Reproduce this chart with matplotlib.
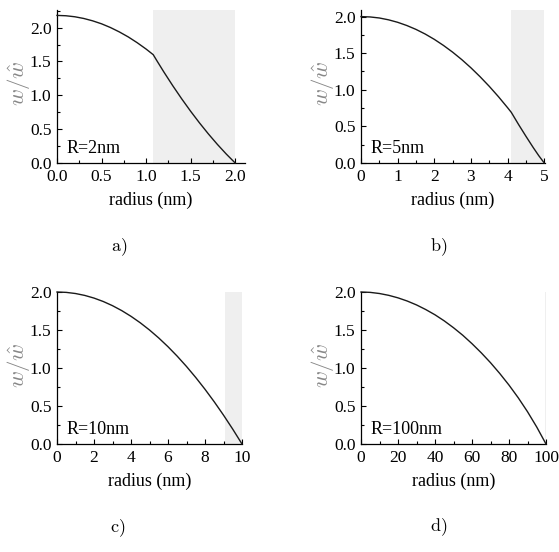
import matplotlib
matplotlib.use("Agg")
import matplotlib.pyplot as plt
from matplotlib.ticker import MultipleLocator

plt.rcParams['font.family'] = ['Liberation Serif', 'DejaVu Serif']
plt.rcParams['mathtext.fontset'] = 'cm'

# ---- data ----
r_a = [0.0, 0.1, 0.2, 0.3, 0.4, 0.5, 0.6, 0.7, 0.8, 0.9, 1.0, 1.08,
       1.12, 1.2, 1.3, 1.4, 1.5, 1.6, 1.7, 1.8, 1.9, 2.0]
w_a = [2.18, 2.175, 2.16, 2.135, 2.10, 2.056, 2.001, 1.936, 1.862, 1.777, 1.683, 1.60,
       1.513, 1.343, 1.140, 0.947, 0.764, 0.591, 0.428, 0.275, 0.132, 0.0]
shade_a = [1.08, 2.0]

r_b = [0.0, 0.25, 0.5, 0.75, 1.0, 1.25, 1.5, 1.75, 2.0, 2.25, 2.5, 2.75, 3.0,
       3.25, 3.5, 3.75, 4.0, 4.1, 4.3, 4.5, 4.7, 4.85, 5.0]
w_b = [2.0, 1.995, 1.981, 1.956, 1.922, 1.878, 1.825, 1.762, 1.689, 1.606, 1.514, 1.412, 1.30,
       1.178, 1.047, 0.906, 0.755, 0.692, 0.525, 0.365, 0.21, 0.10, 0.0]
shade_b = [4.1, 5.0]

r_c = [0.0, 0.5, 1.0, 1.5, 2.0, 2.5, 3.0, 3.5, 4.0, 4.5, 5.0, 5.5, 6.0, 6.5,
       7.0, 7.5, 8.0, 8.5, 9.0, 9.5, 10.0]
w_c = [2.0, 1.995, 1.98, 1.955, 1.92, 1.875, 1.82, 1.755, 1.68, 1.595, 1.50, 1.395, 1.28, 1.155,
       1.02, 0.875, 0.72, 0.555, 0.38, 0.195, 0.0]
shade_c = [9.1, 10.0]

r_d = [0, 5, 10, 15, 20, 25, 30, 35, 40, 45, 50, 55, 60, 65, 70, 75, 80, 85, 90, 95, 100]
w_d = [2.0, 1.995, 1.98, 1.956, 1.923, 1.881, 1.83, 1.769, 1.70, 1.62, 1.53, 1.431, 1.32, 1.20,
       1.07, 0.928, 0.775, 0.608, 0.425, 0.223, 0.0]
shade_d = [99.3, 100.0]

labels = ["R=2nm", "R=5nm", "R=10nm", "R=100nm"]
sublabels = ["a)", "b)", "c)", "d)"]

W, H = 559, 552
fig = plt.figure(figsize=(W / 100, H / 100), dpi=100)

def px_axes(l, r, t, b):
    return fig.add_axes([l / W, 1 - b / H, (r - l) / W, (b - t) / H])

panels = [
    dict(rect=(57, 245, 10, 163), r=r_a, w=w_a, sh=shade_a, xlim=(0, 2.11), ylim=(0, 2.26),
         xmaj=0.5, xmin=0.25, xfmt="{:.1f}", sub=(119, 247)),
    dict(rect=(361, 545, 10, 163), r=r_b, w=w_b, sh=shade_b, xlim=(0, 5.02), ylim=(0, 2.09),
         xmaj=1, xmin=0.5, xfmt="{:.0f}", sub=(439, 247)),
    dict(rect=(57, 242, 292, 444), r=r_c, w=w_c, sh=shade_c, xlim=(0, 10.0), ylim=(0, 2.0),
         xmaj=2, xmin=1, xfmt="{:.0f}", sub=(118, 528)),
    dict(rect=(361, 546, 292, 444), r=r_d, w=w_d, sh=shade_d, xlim=(0, 100.0), ylim=(0, 2.0),
         xmaj=20, xmin=10, xfmt="{:.0f}", sub=(439, 527)),
]

for i, p in enumerate(panels):
    ax = px_axes(*p['rect'])
    ax.axvspan(p['sh'][0], p['sh'][1], color='#efefef', lw=0, zorder=0)
    ax.plot(p['r'], p['w'], color='#1a1a1a', lw=1.0, zorder=3, clip_on=False)
    ax.set_xlim(*p['xlim'])
    ax.set_ylim(*p['ylim'])
    ax.spines['top'].set_visible(False)
    ax.spines['right'].set_visible(False)
    for s in ('left', 'bottom'):
        ax.spines[s].set_linewidth(0.9)
    ax.xaxis.set_major_locator(MultipleLocator(p['xmaj']))
    ax.xaxis.set_minor_locator(MultipleLocator(p['xmin']))
    ax.yaxis.set_major_locator(MultipleLocator(0.5))
    ax.yaxis.set_minor_locator(MultipleLocator(0.25))
    fmt = p['xfmt']
    ax.xaxis.set_major_formatter(plt.FuncFormatter(lambda v, pos, f=fmt: f.format(v)))
    ax.yaxis.set_major_formatter(plt.FuncFormatter(lambda v, pos: "{:.1f}".format(v)))
    ax.tick_params(which='both', direction='in', labelsize=12.5, width=0.8)
    ax.tick_params(which='major', length=3.5, pad=4)
    ax.tick_params(which='minor', length=2)
    ax.set_xlabel("radius (nm)", fontsize=13, labelpad=5)
    ax.set_ylabel(r"$w/\hat{w}$", fontsize=16.5, color='#888888', va='center')
    l, r, t, b = p['rect']
    ax.yaxis.set_label_coords(-39 / (r - l), 0.52)
    ax.text(10 / (r - l), 9.7 / (b - t), labels[i], transform=ax.transAxes,
            fontsize=13, ha='left', va='baseline')
    sx, sy = p['sub']
    fig.text(sx / W, 1 - sy / H, r"$\mathrm{" + sublabels[i] + "}$", fontsize=13,
             ha='center', va='center')

fig.savefig("out.png", dpi=100)
